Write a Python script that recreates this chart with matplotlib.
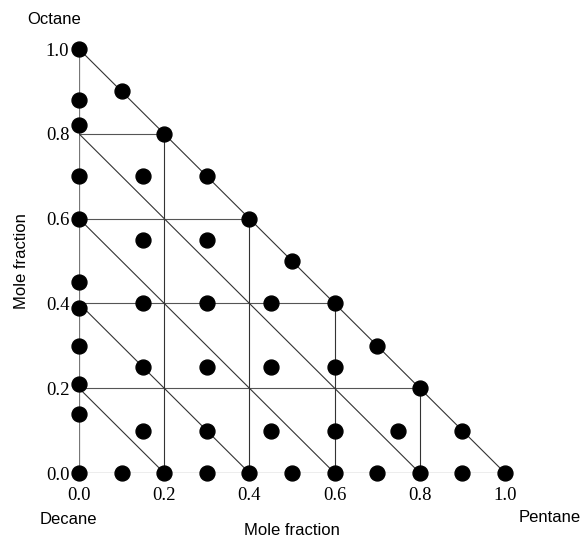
import matplotlib.pyplot as plt

# design points: x = pentane mole fraction, y = octane mole fraction
pentane = [0.0, 0.0, 0.1, 0.0, 0.2,
           0.0, 0.15, 0.3,
           0.0, 0.4, 0.15, 0.3, 0.5,
           0.0, 0.0, 0.15, 0.3, 0.45, 0.6,
           0.0, 0.7, 0.15, 0.3, 0.45, 0.6,
           0.0, 0.8, 0.0,
           0.15, 0.3, 0.45, 0.6, 0.75, 0.9,
           0.0, 0.1, 0.2, 0.3, 0.4, 0.5, 0.6, 0.7, 0.8, 0.9, 1.0]
octane = [1.0, 0.88, 0.9, 0.82, 0.8,
          0.7, 0.7, 0.7,
          0.6, 0.6, 0.55, 0.55, 0.5,
          0.45, 0.39, 0.4, 0.4, 0.4, 0.4,
          0.3, 0.3, 0.25, 0.25, 0.25, 0.25,
          0.21, 0.2, 0.14,
          0.1, 0.1, 0.1, 0.1, 0.1, 0.1,
          0, 0, 0, 0, 0, 0, 0, 0, 0, 0, 0]

grid_levels = [0.2, 0.4, 0.6, 0.8]
tick_values = [0.0, 0.2, 0.4, 0.6, 0.8, 1.0]

fig = plt.figure(figsize=(5.82, 5.38), dpi=100)
ax = fig.add_axes([79 / 582, 65 / 538, 426 / 582, 424 / 538])

line_kw = dict(color='#333333', linewidth=0.8, zorder=1)

# outer triangle
ax.plot([0, 0], [0, 1], color='#777777', linewidth=0.9, zorder=1)
ax.plot([0, 1], [0, 0], color='#777777', linewidth=0.9, zorder=1)
ax.plot([0, 1], [1, 0], **line_kw)

for g in grid_levels:
    ax.plot([g, g], [0, 1 - g], **line_kw)
    ax.plot([0, 1 - g], [g, g], color='#555555', linewidth=0.8, zorder=1)
    ax.plot([0, g], [g, 0], **line_kw)

ax.scatter(pentane, octane, s=115, color='black', zorder=3, clip_on=False)

ax.set_xlim(0, 1)
ax.set_ylim(0, 1)
for s in ax.spines.values():
    s.set_visible(False)

ax.set_xticks(tick_values)
ax.set_yticks(tick_values)
ax.set_xticklabels(['%.1f' % t for t in tick_values])
ax.set_yticklabels(['%.1f' % t for t in tick_values])
ax.tick_params(axis='both', length=0, labelsize=13.5)
ax.tick_params(axis='x', pad=10)
ax.tick_params(axis='y', pad=7)
for lab in ax.get_xticklabels() + ax.get_yticklabels():
    lab.set_family('Liberation Serif')

sans = 'Liberation Sans'
ax.set_xlabel('Mole fraction', fontsize=12, family=sans, labelpad=14)
ax.set_ylabel('Mole fraction', fontsize=12, family=sans, labelpad=12)
fig.text(27 / 582, 1 - 20 / 538, 'Octane', fontsize=12, family=sans, va='center')
fig.text(40 / 582, 1 - 519 / 538, 'Decane', fontsize=12, family=sans, va='center')
fig.text(581 / 582, 1 - 518 / 538, 'Pentane', fontsize=12, family=sans,
         va='center', ha='right')

fig.savefig('out.png', dpi=100)
